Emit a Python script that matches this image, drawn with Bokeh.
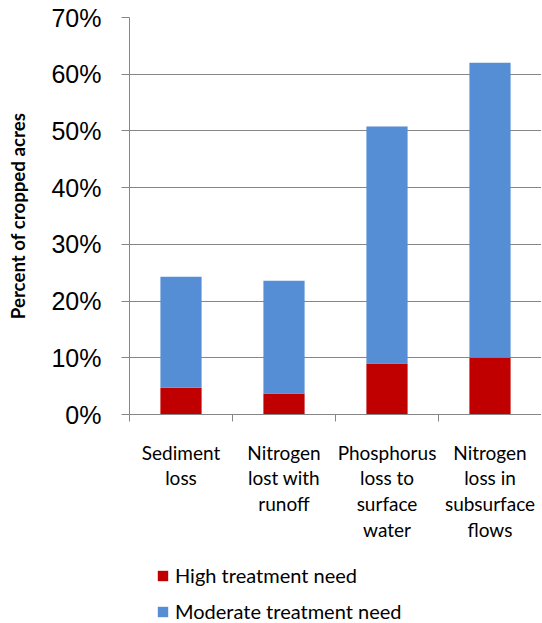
from bokeh.plotting import figure
from bokeh.layouts import column
from bokeh.models import ColumnDataSource, FixedTicker, NumeralTickFormatter, Range1d, Legend, LegendItem
from bokeh.embed import file_html
from bokeh.resources import INLINE

categories = ["Sediment\nloss", "Nitrogen\nlost with\nrunoff",
              "Phosphorus\nloss to\nsurface\nwater", "Nitrogen\nloss in\nsubsurface\nflows"]
high = [0.047, 0.037, 0.090, 0.100]
moderate = [0.196, 0.199, 0.418, 0.520]
y_ticks = [0.0, 0.1, 0.2, 0.3, 0.4, 0.5, 0.6, 0.7]
series_names = ["High treatment need", "Moderate treatment need"]
colors = ["#C00000", "#558ED5"]

xpos = [i + 0.5 for i in range(len(categories))]
bounds = [float(i) for i in range(len(categories) + 1)]
source = ColumnDataSource(dict(x=xpos, high=high, moderate=moderate))

GRAY = "#868686"
CAL = "Lato"

p = figure(frame_width=412, frame_height=397, x_range=Range1d(0, len(categories)), y_range=Range1d(0, 0.7),
           output_backend="svg", toolbar_location=None,
           min_border_left=129, min_border_top=17, min_border_right=0, min_border_bottom=141)
p.outline_line_color = None
p.background_fill_color = "white"
p.border_fill_color = "white"

rs = p.vbar_stack(["high", "moderate"], x="x", width=0.4, source=source,
                  color=colors, line_color=None)

p.xgrid.visible = False
p.ygrid.grid_line_color = GRAY
p.ygrid.grid_line_width = 1

# x axis
xa = p.xaxis[0]
xa.ticker = FixedTicker(ticks=xpos, minor_ticks=bounds)
xa.major_label_overrides = {x: c for x, c in zip(xpos, categories)}
xa.major_tick_in = 0
xa.major_tick_out = 0
xa.minor_tick_in = 0
xa.minor_tick_out = 7
xa.minor_tick_line_color = GRAY
xa.axis_line_color = GRAY
xa.major_label_text_font = CAL
xa.major_label_text_font_size = "19px"
xa.major_label_text_color = "black"
xa.major_label_standoff = 19
xa.major_label_text_line_height = 1.12

# y axis
ya = p.yaxis[0]
ya.ticker = FixedTicker(ticks=y_ticks, minor_ticks=[])
ya.formatter = NumeralTickFormatter(format="0%")
ya.major_tick_in = 0
ya.major_tick_out = 8
ya.major_tick_line_color = GRAY
ya.axis_line_color = GRAY
ya.major_label_text_font = "Liberation Sans"
ya.major_label_text_font_size = "25px"
ya.major_label_text_color = "black"
ya.major_label_standoff = 20
ya.axis_label = "Percent of cropped acres"
ya.axis_label_text_font = CAL
ya.axis_label_text_font_style = "bold"
ya.axis_label_text_font_size = "18.7px"
ya.axis_label_text_color = "black"
ya.axis_label_standoff = 19

# legend in a small figure below the chart (bars there are out of view; only the legend shows)
pl = figure(width=541, height=68, x_range=Range1d(0, len(categories)), y_range=Range1d(5, 6),
            output_backend="svg", toolbar_location=None,
            min_border_left=0, min_border_top=0, min_border_right=0, min_border_bottom=0)
pl.axis.visible = False
pl.grid.visible = False
pl.outline_line_color = None
pl.border_fill_color = "white"
lr = pl.vbar_stack(["high", "moderate"], x="x", width=0.4, source=source,
                   color=colors, line_color=None)

legend = Legend(items=[LegendItem(label=n, renderers=[r]) for n, r in zip(series_names, lr)],
                location=(27, 0), orientation="vertical")
legend.border_line_alpha = 0
legend.background_fill_alpha = 0
legend.glyph_width = 13
legend.glyph_height = 13
legend.label_text_font = CAL
legend.label_text_font_size = "20px"
legend.label_text_color = "black"
legend.label_height = 20
legend.spacing = 12
legend.label_standoff = 6
legend.margin = 0
legend.padding = 0
pl.add_layout(legend, "center")

layout = column(p, pl, spacing=0)
open("out.html", "w").write(file_html(layout, INLINE))
